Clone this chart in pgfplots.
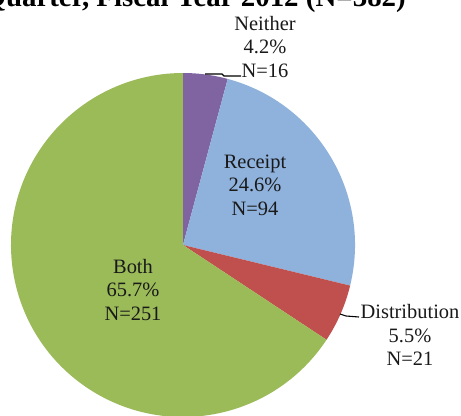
\documentclass[border=0pt]{standalone}
\usepackage{pgfplots}
\pgfplotsset{compat=1.18}
\usepackage{pgfplotstable}
\usepackage{fontspec}
\setmainfont{Liberation Serif}

\definecolor{slice0}{RGB}{128,100,162}
\definecolor{slice1}{RGB}{143,178,220}
\definecolor{slice2}{RGB}{192,80,77}
\definecolor{slice3}{RGB}{155,187,89}
\definecolor{txt}{RGB}{25,25,25}

% label  count  percent  label-x  label-y (pixel coordinates, y up)
\pgfplotstableread{
label count pct lx ly
Neither 16 4.2 265 369
Receipt 94 24.6 255 231
Distribution 21 5.5 410 81
Both 251 65.7 133 126
}\piedata

\begin{document}
\begin{tikzpicture}
\useasboundingbox (0,0) rectangle (461bp,416bp);
\clip (0,0) rectangle (461bp,416bp);
\begin{axis}[
  at={(0,0)}, anchor=south west,
  x=1bp, y=1bp, xmin=0, xmax=461, ymin=0, ymax=416,
  scale only axis, hide axis, clip=false,
]
\def\cx{183}\def\cy{171}\def\R{172}
\xdef\start{90}
\pgfplotsforeachungrouped \i in {0,...,3}{%
  \pgfplotstablegetelem{\i}{count}\of\piedata
  \let\cnt\pgfplotsretval
  \pgfmathsetmacro\stop{\start - \cnt/382*360}%
  \edef\temp{\noexpand\fill[slice\i] (axis cs:\cx,\cy) -- ++(\start:\R bp)
     arc[start angle=\start, end angle=\stop, radius=\R bp] -- cycle;}%
  \temp
  \xdef\start{\stop}%
}
% labels from table
\pgfplotsforeachungrouped \i in {0,...,3}{%
  \pgfplotstablegetelem{\i}{label}\of\piedata \let\lab\pgfplotsretval
  \pgfplotstablegetelem{\i}{count}\of\piedata \let\cnt\pgfplotsretval
  \pgfplotstablegetelem{\i}{pct}\of\piedata \let\pc\pgfplotsretval
  \pgfplotstablegetelem{\i}{lx}\of\piedata \let\lx\pgfplotsretval
  \pgfplotstablegetelem{\i}{ly}\of\piedata \let\ly\pgfplotsretval
  \edef\temp{\noexpand\node[align=center, font=\noexpand\fontsize{20.5}{23.5}\noexpand\selectfont, text=txt, inner sep=0pt]
     at (axis cs:\lx,\ly) {\lab\noexpand\\\pc\noexpand\%\noexpand\\N=\cnt};}%
  \temp
}
% leader lines
\draw[black, line width=1.2pt] (axis cs:205,342) -- (axis cs:222,342) -- (axis cs:224,340) -- (axis cs:241,340);
\draw[black, line width=1.1pt] (axis cs:340,102) -- (axis cs:346,100) -- (axis cs:359,99);
% cropped title
\node[anchor=base east, font=\bfseries\fontsize{29}{33}\selectfont, inner sep=0pt]
  at (axis cs:406,409) {by Quarter, Fiscal Year 2012 (N=382)};
\end{axis}
\end{tikzpicture}
\end{document}
